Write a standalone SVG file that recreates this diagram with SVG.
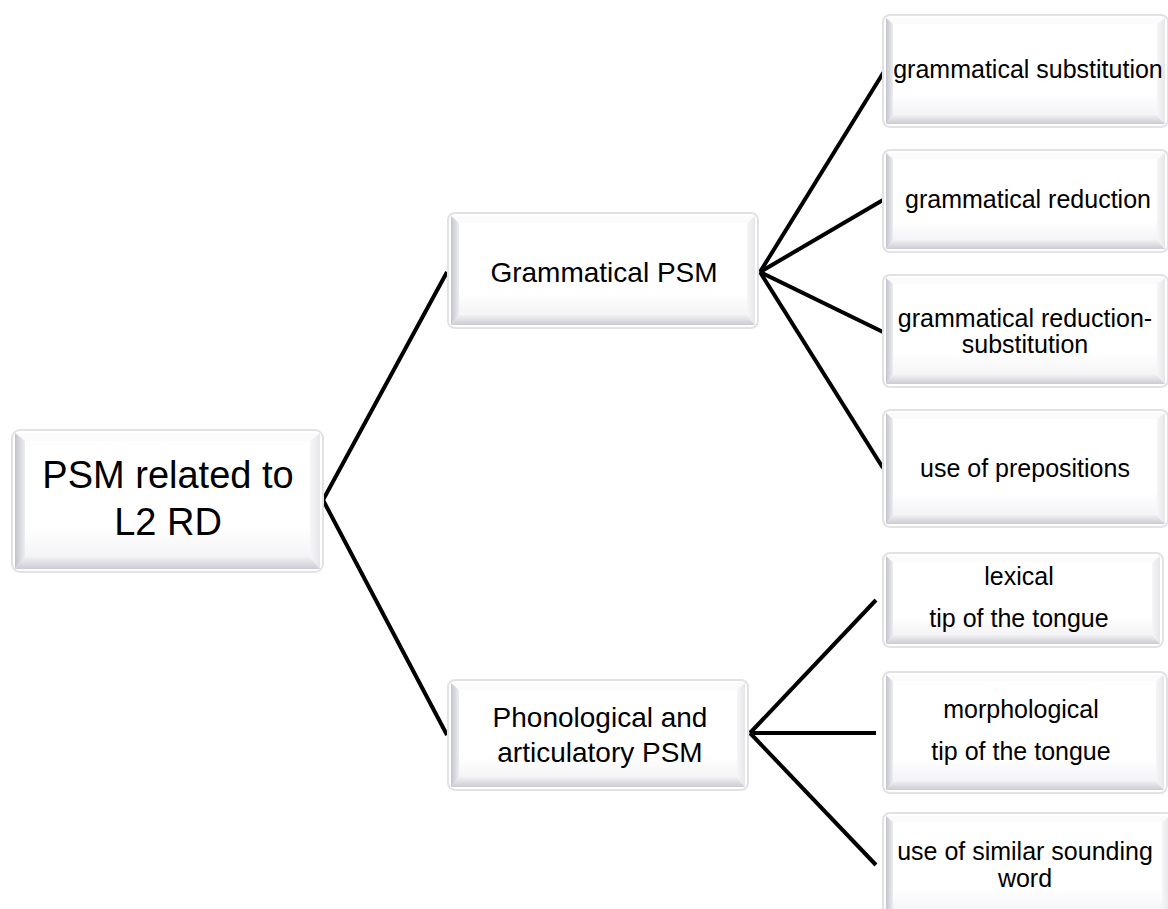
<svg xmlns="http://www.w3.org/2000/svg" width="1168" height="909" viewBox="0 0 1168 909">
  <defs>
    <linearGradient id="bevL" x1="0" y1="0" x2="1" y2="0">
      <stop offset="0" stop-color="#c4c4ce"/>
      <stop offset="1" stop-color="#ececf1"/>
    </linearGradient>
    <linearGradient id="bevB" x1="0" y1="0" x2="0" y2="1">
      <stop offset="0" stop-color="#f1f1f4"/>
      <stop offset="1" stop-color="#cbcbd3"/>
    </linearGradient>
    <linearGradient id="bevR" x1="0" y1="0" x2="1" y2="0">
      <stop offset="0" stop-color="#f6f6f8"/>
      <stop offset="1" stop-color="#e6e6ea"/>
    </linearGradient>
    <linearGradient id="face" x1="0" y1="0" x2="0" y2="1">
      <stop offset="0" stop-color="#ffffff"/>
      <stop offset="0.75" stop-color="#ffffff"/>
      <stop offset="1" stop-color="#f4f4f7"/>
    </linearGradient>
  </defs>
  <style>
    .frame { fill: #ffffff; stroke: #e2e2e4; stroke-width: 2; }
    .top { fill: #fbfbfc; }
    .left { fill: url(#bevL); }
    .bottom { fill: url(#bevB); }
    .right { fill: url(#bevR); }
    .face { fill: url(#face); }
    .conn { stroke: #000000; stroke-width: 4; fill: none; stroke-linecap: butt; stroke-linejoin: miter; }
    text { font-family: "Liberation Sans", Arial, sans-serif; fill: #000000; text-anchor: middle; }
    .t1 { font-size: 38px; }
    .t2 { font-size: 28px; }
    .t3 { font-size: 25px; }
  </style>
  <rect width="1168" height="909" fill="#ffffff"/>

  <!-- connectors -->
  <g id="connectors">
    <polyline class="conn" points="447,272 323,500 447,735"/>
    <line class="conn" x1="760" y1="272" x2="885" y2="70"/>
    <line class="conn" x1="760" y1="272" x2="883" y2="200"/>
    <line class="conn" x1="760" y1="272" x2="883" y2="332"/>
    <line class="conn" x1="760" y1="272" x2="883" y2="468"/>
    <line class="conn" x1="750" y1="733" x2="876" y2="600"/>
    <line class="conn" x1="750" y1="733" x2="876" y2="733"/>
    <line class="conn" x1="750" y1="733" x2="876" y2="865"/>
  </g>

  <!-- root: x 12 y 430 w 311 h 142 -->
  <g id="root">
    <rect class="frame" x="12" y="430" width="311" height="142" rx="8"/>
    <polygon class="top" points="15,433 320,433 310,441 25,441"/>
    <polygon class="left" points="15,433 25,441 25,557 15,569"/>
    <polygon class="bottom" points="15,569 25,557 310,557 320,569"/>
    <polygon class="right" points="320,433 320,569 310,557 310,441"/>
    <rect class="face" x="25" y="441" width="285" height="116"/>
    <text class="t1" x="168" y="488">PSM related to</text>
    <text class="t1" x="168" y="535">L2 RD</text>
  </g>

  <!-- Grammatical PSM: x 448 y 213 w 310 h 115 -->
  <g id="grammatical">
    <rect class="frame" x="448" y="213" width="310" height="115" rx="7"/>
    <polygon class="top" points="451,216 755,216 747,223 459,223"/>
    <polygon class="left" points="451,216 459,223 459,315 451,325"/>
    <polygon class="bottom" points="451,325 459,315 747,315 755,325"/>
    <polygon class="right" points="755,216 755,325 747,315 747,223"/>
    <rect class="face" x="459" y="223" width="288" height="92"/>
    <text class="t2" x="604" y="282">Grammatical PSM</text>
  </g>

  <!-- Phonological: x 448 y 680 w 300 h 110 -->
  <g id="phonological">
    <rect class="frame" x="448" y="680" width="300" height="110" rx="7"/>
    <polygon class="top" points="451,683 745,683 737,690 459,690"/>
    <polygon class="left" points="451,683 459,690 459,777 451,787"/>
    <polygon class="bottom" points="451,787 459,777 737,777 745,787"/>
    <polygon class="right" points="745,683 745,787 737,777 737,690"/>
    <rect class="face" x="459" y="690" width="278" height="87"/>
    <text class="t2" x="600" y="727">Phonological and</text>
    <text class="t2" x="600" y="762">articulatory PSM</text>
  </g>

  <!-- leaf 1: x 883 y 15 w 285 h 112 -->
  <g id="gram-substitution">
    <rect class="frame" x="883" y="15" width="285" height="112" rx="7"/>
    <polygon class="top" points="886,18 1165,18 1157,24 893,24"/>
    <polygon class="left" points="886,18 893,24 893,115 886,124"/>
    <polygon class="bottom" points="886,124 893,115 1157,115 1165,124"/>
    <polygon class="right" points="1165,18 1165,124 1157,115 1157,24"/>
    <rect class="face" x="893" y="24" width="264" height="91"/>
    <text class="t3" x="1028" y="78">grammatical substitution</text>
  </g>

  <!-- leaf 2: x 883 y 150 w 285 h 102 -->
  <g id="gram-reduction">
    <rect class="frame" x="883" y="150" width="285" height="102" rx="7"/>
    <polygon class="top" points="886,153 1165,153 1157,159 893,159"/>
    <polygon class="left" points="886,153 893,159 893,240 886,249"/>
    <polygon class="bottom" points="886,249 893,240 1157,240 1165,249"/>
    <polygon class="right" points="1165,153 1165,249 1157,240 1157,159"/>
    <rect class="face" x="893" y="159" width="264" height="81"/>
    <text class="t3" x="1028" y="208">grammatical reduction</text>
  </g>

  <!-- leaf 3: x 883 y 275 w 285 h 112 -->
  <g id="gram-reduction-substitution">
    <rect class="frame" x="883" y="275" width="285" height="112" rx="7"/>
    <polygon class="top" points="886,278 1165,278 1157,284 893,284"/>
    <polygon class="left" points="886,278 893,284 893,375 886,384"/>
    <polygon class="bottom" points="886,384 893,375 1157,375 1165,384"/>
    <polygon class="right" points="1165,278 1165,384 1157,375 1157,284"/>
    <rect class="face" x="893" y="284" width="264" height="91"/>
    <text class="t3" x="1025" y="327">grammatical reduction-</text>
    <text class="t3" x="1025" y="353">substitution</text>
  </g>

  <!-- leaf 4: x 883 y 410 w 285 h 117 -->
  <g id="prepositions">
    <rect class="frame" x="883" y="410" width="285" height="117" rx="7"/>
    <polygon class="top" points="886,413 1165,413 1157,419 893,419"/>
    <polygon class="left" points="886,413 893,419 893,515 886,524"/>
    <polygon class="bottom" points="886,524 893,515 1157,515 1165,524"/>
    <polygon class="right" points="1165,413 1165,524 1157,515 1157,419"/>
    <rect class="face" x="893" y="419" width="264" height="96"/>
    <text class="t3" x="1025" y="477">use of prepositions</text>
  </g>

  <!-- leaf 5: x 883 y 553 w 280 h 94 -->
  <g id="lexical-tot">
    <rect class="frame" x="883" y="553" width="280" height="94" rx="7"/>
    <polygon class="top" points="886,556 1160,556 1152,562 893,562"/>
    <polygon class="left" points="886,556 893,562 893,635 886,644"/>
    <polygon class="bottom" points="886,644 893,635 1152,635 1160,644"/>
    <polygon class="right" points="1160,556 1160,644 1152,635 1152,562"/>
    <rect class="face" x="893" y="562" width="259" height="73"/>
    <text class="t3" x="1019" y="585">lexical</text>
    <text class="t3" x="1019" y="627">tip of the tongue</text>
  </g>

  <!-- leaf 6: x 883 y 672 w 284 h 121 -->
  <g id="morphological-tot">
    <rect class="frame" x="883" y="672" width="284" height="121" rx="7"/>
    <polygon class="top" points="886,675 1164,675 1156,681 893,681"/>
    <polygon class="left" points="886,675 893,681 893,781 886,790"/>
    <polygon class="bottom" points="886,790 893,781 1156,781 1164,790"/>
    <polygon class="right" points="1164,675 1164,790 1156,781 1156,681"/>
    <rect class="face" x="893" y="681" width="263" height="100"/>
    <text class="t3" x="1021" y="718">morphological</text>
    <text class="t3" x="1021" y="760">tip of the tongue</text>
  </g>

  <!-- leaf 7: x 883 y 813 w 290 h 110 (runs past the lower edge) -->
  <g id="similar-sounding">
    <rect class="frame" x="883" y="813" width="290" height="110" rx="7"/>
    <polygon class="top" points="886,816 1170,816 1162,822 893,822"/>
    <polygon class="left" points="886,816 893,822 893,911 886,920"/>
    <polygon class="bottom" points="886,920 893,911 1162,911 1170,920"/>
    <polygon class="right" points="1170,816 1170,920 1162,911 1162,822"/>
    <rect class="face" x="893" y="822" width="269" height="89"/>
    <text class="t3" x="1025" y="860">use of similar sounding</text>
    <text class="t3" x="1025" y="887">word</text>
  </g>
</svg>
